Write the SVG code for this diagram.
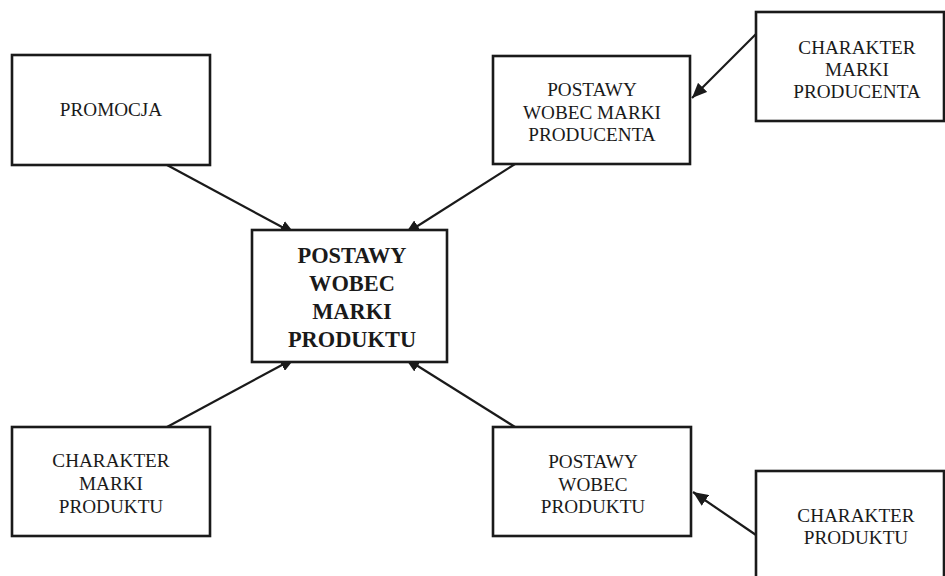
<svg xmlns="http://www.w3.org/2000/svg" width="945" height="576" viewBox="0 0 945 576">
<style>
.box{fill:#fff;stroke:#1a1a1a;stroke-width:2.6}
.t{font-size:19.2px;fill:#1a1a1a;text-anchor:middle}
.b{font-size:22.4px;font-weight:bold;fill:#1a1a1a;text-anchor:middle}
.c{stroke:#1a1a1a;stroke-width:2.2;fill:none;marker-end:url(#ah)}
</style>
<defs>
<marker id="ah" viewBox="0 0 10 10" refX="10" refY="5" markerWidth="15" markerHeight="13" markerUnits="userSpaceOnUse" orient="auto" preserveAspectRatio="none">
<path d="M0,0 L10,5 L0,10 z" fill="#1a1a1a"/>
</marker>
</defs>
<rect width="945" height="576" fill="#fff"/>
<g id="connectors">
<line class="c" x1="167" y1="165" x2="295" y2="234"/>
<line class="c" x1="515" y1="164" x2="405" y2="234"/>
<line class="c" x1="167" y1="427" x2="295" y2="358"/>
<line class="c" x1="515" y1="427" x2="405" y2="358"/>
<line class="c" x1="756" y1="34" x2="692" y2="98"/>
<line class="c" x1="756" y1="535" x2="693" y2="492"/>
</g>
<g font-family="Liberation Serif, Times New Roman, serif">
<g id="promocja">
<rect class="box" x="12" y="55" width="198" height="110"/>
<text class="t" x="111" y="116">PROMOCJA</text>
</g>
<g id="postawy-marki-produktu">
<rect class="box" x="252" y="230" width="195" height="132"/>
<text class="b" x="352" y="263">POSTAWY</text>
<text class="b" x="352" y="291">WOBEC</text>
<text class="b" x="352" y="319">MARKI</text>
<text class="b" x="352" y="347">PRODUKTU</text>
</g>
<g id="postawy-marki-producenta">
<rect class="box" x="493" y="56" width="197" height="108"/>
<text class="t" x="592" y="96">POSTAWY</text>
<text class="t" x="592" y="119">WOBEC MARKI</text>
<text class="t" x="592" y="141">PRODUCENTA</text>
</g>
<g id="charakter-marki-producenta">
<rect class="box" x="756" y="12" width="188" height="109"/>
<text class="t" x="857" y="54">CHARAKTER</text>
<text class="t" x="857" y="76">MARKI</text>
<text class="t" x="857" y="98">PRODUCENTA</text>
</g>
<g id="charakter-marki-produktu">
<rect class="box" x="12" y="427" width="198" height="109"/>
<text class="t" x="111" y="467">CHARAKTER</text>
<text class="t" x="111" y="490">MARKI</text>
<text class="t" x="111" y="513">PRODUKTU</text>
</g>
<g id="postawy-wobec-produktu">
<rect class="box" x="493" y="427" width="198" height="109"/>
<text class="t" x="593" y="468">POSTAWY</text>
<text class="t" x="593" y="491">WOBEC</text>
<text class="t" x="593" y="513">PRODUKTU</text>
</g>
<g id="charakter-produktu">
<rect class="box" x="756" y="471" width="188" height="120"/>
<text class="t" x="856" y="522">CHARAKTER</text>
<text class="t" x="856" y="544">PRODUKTU</text>
</g>
</g>
</svg>
